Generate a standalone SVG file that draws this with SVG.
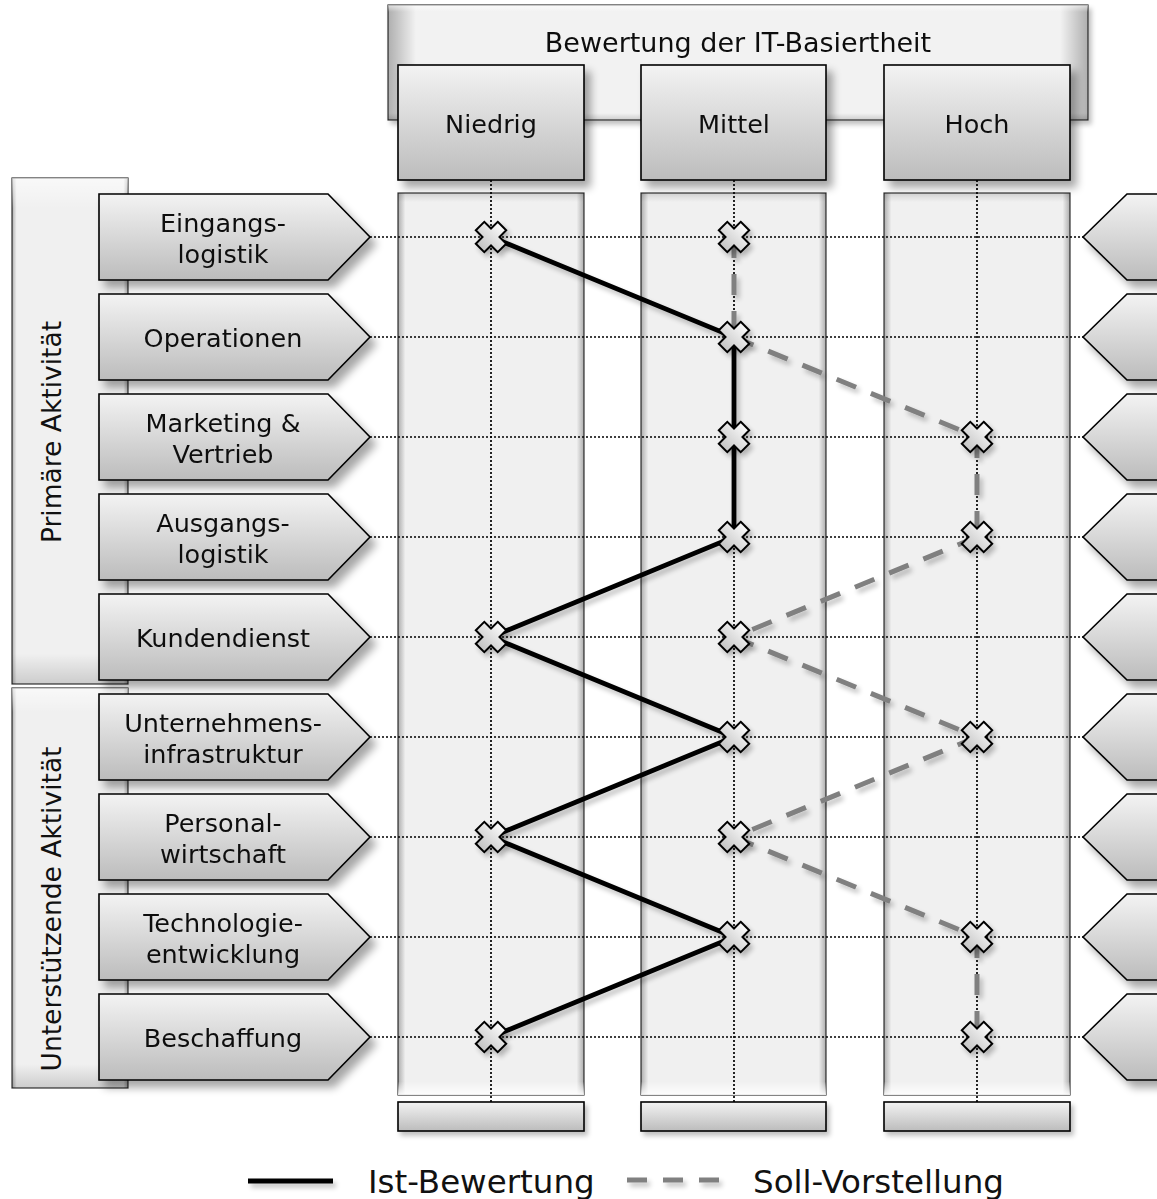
<svg xmlns="http://www.w3.org/2000/svg" xmlns:xlink="http://www.w3.org/1999/xlink" width="1157" height="1199" viewBox="0 0 1157 1199">
<style>
  text { font-family: "DejaVu Sans", "Liberation Sans", sans-serif; fill: #111; }
  .lbl { font-size: 25.5px; text-anchor: middle; }
  .hdr { font-size: 25.5px; text-anchor: middle; }
  .ttl { font-size: 27px; text-anchor: middle; }
  .side { font-size: 26.5px; text-anchor: middle; }
  .leg { font-size: 32.5px; }
  .box { fill: url(#gBox); stroke: #000; stroke-width: 1.6; }
  .flat { fill: #f0f0f0; stroke: #333; stroke-width: 1.2; }
  .bevH { fill: url(#gBevH); stroke: none; }
  .bevV { fill: url(#gBevV); stroke: none; }
  .dot { stroke: #000; stroke-width: 1.7; stroke-dasharray: 2 2; fill: none; }
  .ist { stroke: #000; stroke-width: 4.8; fill: none; stroke-linecap: butt; }
  .soll { stroke: #808080; stroke-width: 5; fill: none; stroke-dasharray: 21 16; }
  .mk { fill: url(#gMk); stroke: #000; stroke-width: 2; stroke-linejoin: miter; }
</style>
<defs>
  <linearGradient id="gBox" x1="0" y1="0" x2="0" y2="1">
    <stop offset="0" stop-color="#f3f3f3"/>
    <stop offset="1" stop-color="#bcbcbc"/>
  </linearGradient>
  <linearGradient id="gMk" x1="0" y1="0" x2="0" y2="1">
    <stop offset="0" stop-color="#fafafa"/>
    <stop offset="1" stop-color="#c4c4c4"/>
  </linearGradient>
  <linearGradient id="gBevH" x1="0" y1="0" x2="1" y2="0">
    <stop offset="0" stop-color="#000" stop-opacity="0.28"/>
    <stop offset="0.04" stop-color="#000" stop-opacity="0"/>
    <stop offset="0.96" stop-color="#000" stop-opacity="0"/>
    <stop offset="1" stop-color="#000" stop-opacity="0.28"/>
  </linearGradient>
  <linearGradient id="gBevV" x1="0" y1="0" x2="0" y2="1">
    <stop offset="0" stop-color="#000" stop-opacity="0.12"/>
    <stop offset="0.01" stop-color="#000" stop-opacity="0"/>
    <stop offset="0.985" stop-color="#fff" stop-opacity="0"/>
    <stop offset="1" stop-color="#fff" stop-opacity="0.9"/>
  </linearGradient>
  <linearGradient id="gBevT" x1="0" y1="0" x2="0" y2="1">
    <stop offset="0" stop-color="#fff" stop-opacity="0.6"/>
    <stop offset="0.06" stop-color="#fff" stop-opacity="0"/>
    <stop offset="0.94" stop-color="#000" stop-opacity="0"/>
    <stop offset="1" stop-color="#000" stop-opacity="0.15"/>
  </linearGradient>
  <filter id="sh" x="-20%" y="-20%" width="150%" height="150%">
    <feGaussianBlur in="SourceAlpha" stdDeviation="4"/>
    <feOffset dx="6" dy="7" result="b"/>
    <feComponentTransfer><feFuncA type="linear" slope="0.35"/></feComponentTransfer>
    <feMerge><feMergeNode/><feMergeNode in="SourceGraphic"/></feMerge>
  </filter>
  <filter id="shL" filterUnits="userSpaceOnUse" x="0" y="0" width="1157" height="1199">
    <feGaussianBlur in="SourceAlpha" stdDeviation="2.5"/>
    <feOffset dx="3" dy="4" result="b"/>
    <feComponentTransfer><feFuncA type="linear" slope="0.25"/></feComponentTransfer>
    <feMerge><feMergeNode/><feMergeNode in="SourceGraphic"/></feMerge>
  </filter>
  <path id="xm" class="mk" transform="rotate(45)" d="M-6,-15.5 H6 V-6 H15.5 V6 H6 V15.5 H-6 V6 H-15.5 V-6 H-6 Z"/>
  <path id="arrL" class="box" d="M0,-43 H229 L271,0 L229,43 H0 Z"/>
  <path id="arrR" class="box" d="M0,0 L44,-43 H80 V43 H44 Z"/>
</defs>

<rect width="1157" height="1199" fill="#fff"/>

<!-- Title -->
<g id="title" filter="url(#shL)">
  <rect x="388" y="5" width="700" height="115" fill="#f2f2f2" stroke="#333" stroke-width="1.2"/>
  <rect x="388" y="5" width="700" height="115" class="bevH"/>
  <rect x="388" y="5" width="700" height="115" fill="url(#gBevT)"/>
  <text x="738" y="52" class="ttl">Bewertung der IT-Basiertheit</text>
</g>

<!-- Sidebars -->
<g id="side-primaer">
  <rect x="12" y="178" width="116" height="506" class="flat"/>
  <rect x="12" y="178" width="116" height="506" class="bevH"/>
  <rect x="12" y="178" width="116" height="506" fill="url(#gBevT)"/>
  <text class="side" transform="translate(61,432) rotate(-90)">Primäre Aktivität</text>
</g>
<g id="side-unterst">
  <rect x="12" y="688" width="116" height="400" class="flat"/>
  <rect x="12" y="688" width="116" height="400" class="bevH"/>
  <rect x="12" y="688" width="116" height="400" fill="url(#gBevT)"/>
  <text class="side" transform="translate(61,909) rotate(-90)">Unterstützende Aktivität</text>
</g>

<!-- Column bodies -->
<g id="col-niedrig-body">
  <rect x="398" y="193" width="186" height="902" class="flat"/>
  <rect x="398" y="193" width="186" height="902" class="bevH"/>
  <rect x="398" y="193" width="186" height="902" class="bevV"/>
</g>
<g id="col-mittel-body">
  <rect x="641" y="193" width="185" height="902" class="flat"/>
  <rect x="641" y="193" width="185" height="902" class="bevH"/>
  <rect x="641" y="193" width="185" height="902" class="bevV"/>
</g>
<g id="col-hoch-body">
  <rect x="884" y="193" width="186" height="902" class="flat"/>
  <rect x="884" y="193" width="186" height="902" class="bevH"/>
  <rect x="884" y="193" width="186" height="902" class="bevV"/>
</g>

<!-- Column headers -->
<g id="hdr-niedrig" filter="url(#sh)">
  <rect x="398" y="65" width="186" height="115" class="box"/>
  <text x="491" y="133" class="hdr">Niedrig</text>
</g>
<g id="hdr-mittel" filter="url(#sh)">
  <rect x="641" y="65" width="185" height="115" class="box"/>
  <text x="734" y="133" class="hdr">Mittel</text>
</g>
<g id="hdr-hoch" filter="url(#sh)">
  <rect x="884" y="65" width="186" height="115" class="box"/>
  <text x="977" y="133" class="hdr">Hoch</text>
</g>

<!-- Bottom boxes -->
<g id="foot-niedrig" filter="url(#shL)"><rect x="398" y="1102" width="186" height="29" class="box"/></g>
<g id="foot-mittel" filter="url(#shL)"><rect x="641" y="1102" width="185" height="29" class="box"/></g>
<g id="foot-hoch" filter="url(#shL)"><rect x="884" y="1102" width="186" height="29" class="box"/></g>

<!-- Grid (dotted) -->
<g id="grid">
  <line class="dot" x1="491" y1="180" x2="491" y2="1102"/>
  <line class="dot" x1="734" y1="180" x2="734" y2="1102"/>
  <line class="dot" x1="977" y1="180" x2="977" y2="1102"/>
  <line class="dot" x1="370" y1="237" x2="1083" y2="237"/>
  <line class="dot" x1="370" y1="337" x2="1083" y2="337"/>
  <line class="dot" x1="370" y1="437" x2="1083" y2="437"/>
  <line class="dot" x1="370" y1="537" x2="1083" y2="537"/>
  <line class="dot" x1="370" y1="637" x2="1083" y2="637"/>
  <line class="dot" x1="370" y1="737" x2="1083" y2="737"/>
  <line class="dot" x1="370" y1="837" x2="1083" y2="837"/>
  <line class="dot" x1="370" y1="937" x2="1083" y2="937"/>
  <line class="dot" x1="370" y1="1037" x2="1083" y2="1037"/>
</g>

<!-- Row labels (left arrows) -->
<g id="row-eingangslogistik" filter="url(#sh)">
  <use href="#arrL" x="99" y="237"/>
  <text class="lbl" x="223" y="232">Eingangs-</text>
  <text class="lbl" x="223" y="263">logistik</text>
</g>
<g id="row-operationen" filter="url(#sh)">
  <use href="#arrL" x="99" y="337"/>
  <text class="lbl" x="223" y="347">Operationen</text>
</g>
<g id="row-marketing" filter="url(#sh)">
  <use href="#arrL" x="99" y="437"/>
  <text class="lbl" x="223" y="432">Marketing &amp;</text>
  <text class="lbl" x="223" y="463">Vertrieb</text>
</g>
<g id="row-ausgangslogistik" filter="url(#sh)">
  <use href="#arrL" x="99" y="537"/>
  <text class="lbl" x="223" y="532">Ausgangs-</text>
  <text class="lbl" x="223" y="563">logistik</text>
</g>
<g id="row-kundendienst" filter="url(#sh)">
  <use href="#arrL" x="99" y="637"/>
  <text class="lbl" x="223" y="647">Kundendienst</text>
</g>
<g id="row-unternehmensinfrastruktur" filter="url(#sh)">
  <use href="#arrL" x="99" y="737"/>
  <text class="lbl" x="223" y="732">Unternehmens-</text>
  <text class="lbl" x="223" y="763">infrastruktur</text>
</g>
<g id="row-personalwirtschaft" filter="url(#sh)">
  <use href="#arrL" x="99" y="837"/>
  <text class="lbl" x="223" y="832">Personal-</text>
  <text class="lbl" x="223" y="863">wirtschaft</text>
</g>
<g id="row-technologieentwicklung" filter="url(#sh)">
  <use href="#arrL" x="99" y="937"/>
  <text class="lbl" x="223" y="932">Technologie-</text>
  <text class="lbl" x="223" y="963">entwicklung</text>
</g>
<g id="row-beschaffung" filter="url(#sh)">
  <use href="#arrL" x="99" y="1037"/>
  <text class="lbl" x="223" y="1047">Beschaffung</text>
</g>

<!-- Right arrows -->
<g id="right-arrows" filter="url(#sh)">
  <use href="#arrR" x="1083" y="237"/>
  <use href="#arrR" x="1083" y="337"/>
  <use href="#arrR" x="1083" y="437"/>
  <use href="#arrR" x="1083" y="537"/>
  <use href="#arrR" x="1083" y="637"/>
  <use href="#arrR" x="1083" y="737"/>
  <use href="#arrR" x="1083" y="837"/>
  <use href="#arrR" x="1083" y="937"/>
  <use href="#arrR" x="1083" y="1037"/>
</g>

<!-- Connectors -->
<g id="connectors" filter="url(#shL)">
  <g id="soll-lines">
    <line class="soll" x1="734" y1="237" x2="734" y2="337"/>
    <line class="soll" x1="734" y1="337" x2="977" y2="437"/>
    <line class="soll" x1="977" y1="437" x2="977" y2="537"/>
    <line class="soll" x1="977" y1="537" x2="734" y2="637"/>
    <line class="soll" x1="734" y1="637" x2="977" y2="737"/>
    <line class="soll" x1="977" y1="737" x2="734" y2="837"/>
    <line class="soll" x1="734" y1="837" x2="977" y2="937"/>
    <line class="soll" x1="977" y1="937" x2="977" y2="1037"/>
  </g>
  <polyline id="ist-line" class="ist" points="491,237 734,337 734,437 734,537 491,637 734,737 491,837 734,937 491,1037"/>
</g>

<!-- Markers -->
<g id="markers" filter="url(#shL)">
  <use href="#xm" x="491" y="237"/>
  <use href="#xm" x="734" y="237"/>
  <use href="#xm" x="734" y="337"/>
  <use href="#xm" x="734" y="437"/>
  <use href="#xm" x="977" y="437"/>
  <use href="#xm" x="734" y="537"/>
  <use href="#xm" x="977" y="537"/>
  <use href="#xm" x="491" y="637"/>
  <use href="#xm" x="734" y="637"/>
  <use href="#xm" x="734" y="737"/>
  <use href="#xm" x="977" y="737"/>
  <use href="#xm" x="491" y="837"/>
  <use href="#xm" x="734" y="837"/>
  <use href="#xm" x="734" y="937"/>
  <use href="#xm" x="977" y="937"/>
  <use href="#xm" x="491" y="1037"/>
  <use href="#xm" x="977" y="1037"/>
</g>

<!-- Legend -->
<g id="legend">
  <g filter="url(#shL)">
    <line x1="248" y1="1181" x2="333" y2="1181" stroke="#000" stroke-width="5"/>
    <line x1="627" y1="1180" x2="720" y2="1180" stroke="#808080" stroke-width="5" stroke-dasharray="20 16"/>
  </g>
  <text class="leg" x="368" y="1193">Ist-Bewertung</text>
  <text class="leg" x="753" y="1193">Soll-Vorstellung</text>
</g>
</svg>
